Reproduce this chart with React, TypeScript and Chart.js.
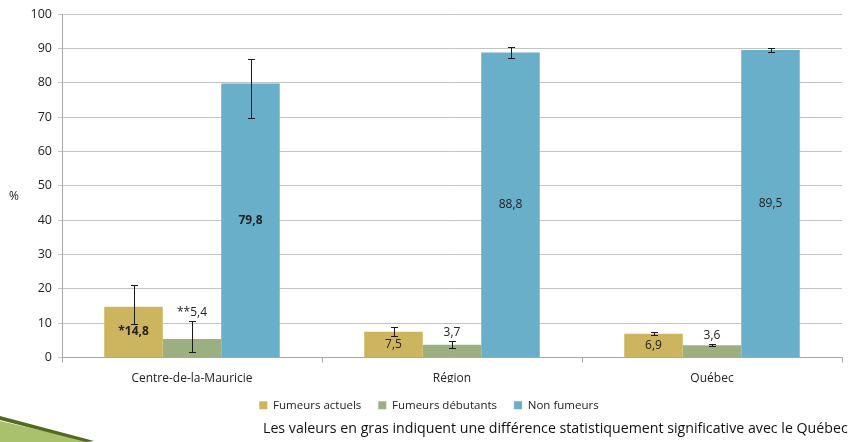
import React, { useEffect, useRef } from "react";
import { Chart, registerables } from "chart.js";

Chart.register(...registerables);

const categories = ["Centre-de-la-Mauricie", "Région", "Québec"];
const seriesNames = ["Fumeurs actuels", "Fumeurs débutants", "Non fumeurs"];
const seriesColors = ["#CDB45E", "#9CAF80", "#6AAFCA"];

const fumeursActuels = [14.8, 7.5, 6.9];
const fumeursDebutants = [5.4, 3.7, 3.6];
const nonFumeurs = [79.8, 88.8, 89.5];

const actuelsLow = [9.8, 6.4, 6.5];
const actuelsHigh = [21.2, 8.9, 7.4];
const debutantsLow = [1.7, 2.8, 3.3];
const debutantsHigh = [10.5, 4.7, 3.9];
const nonLow = [69.6, 87.1, 88.8];
const nonHigh = [86.9, 90.5, 90.1];

const actuelsPrefix = ["*", "", ""];
const debutantsPrefix = ["**", "", ""];
const nonPrefix = ["", "", ""];
const actuelsBold = [true, false, false];
const debutantsBold = [false, false, false];
const nonBold = [true, false, false];

const yMin = 0;
const yMax = 100;
const yStep = 10;
const yAxisTitle = "%";
const footnote =
  "Les valeurs en gras indiquent une différence statistiquement significative avec le Québec";

const FONT = "'Open Sans', 'Noto Sans', sans-serif";

const lows = [actuelsLow, debutantsLow, nonLow];
const highs = [actuelsHigh, debutantsHigh, nonHigh];
const prefixes = [actuelsPrefix, debutantsPrefix, nonPrefix];
const bolds = [actuelsBold, debutantsBold, nonBold];
const values = [fumeursActuels, fumeursDebutants, nonFumeurs];

const fmt = (v: number) => v.toFixed(1).replace(".", ",");

const errorAndLabels = {
  id: "errorAndLabels",
  afterDatasetsDraw(chart: any) {
    const ctx = chart.ctx;
    const ys = chart.scales.y;
    ctx.save();
    ctx.strokeStyle = "#1a1a1a";
    ctx.lineWidth = 1;
    chart.data.datasets.forEach((_ds: any, i: number) => {
      const meta = chart.getDatasetMeta(i);
      meta.data.forEach((el: any, j: number) => {
        const x = Math.round(el.x) + 0.5;
        const yh = Math.round(ys.getPixelForValue(highs[i][j])) + 0.5;
        const yl = Math.round(ys.getPixelForValue(lows[i][j])) + 0.5;
        ctx.beginPath();
        ctx.moveTo(x, yh);
        ctx.lineTo(x, yl);
        ctx.moveTo(x - 3.5, yh);
        ctx.lineTo(x + 3.5, yh);
        ctx.moveTo(x - 3.5, yl);
        ctx.lineTo(x + 3.5, yl);
        ctx.stroke();
      });
    });
    ctx.fillStyle = "#222";
    ctx.textAlign = "center";
    ctx.textBaseline = "middle";
    chart.data.datasets.forEach((_ds: any, i: number) => {
      const meta = chart.getDatasetMeta(i);
      meta.data.forEach((el: any, j: number) => {
        const text = prefixes[i][j] + fmt(values[i][j]);
        ctx.font = (bolds[i][j] ? "bold " : "") + "12px " + FONT;
        let y: number;
        if (i === 1) {
          y = ys.getPixelForValue(highs[i][j]) - 9;
        } else {
          y = (el.y + el.base) / 2;
        }
        ctx.fillText(text, el.x, y);
      });
    });
    ctx.font = "12px " + FONT;
    ctx.fillStyle = "#222";
    ctx.fillText(yAxisTitle, 14, (chart.chartArea.top + chart.chartArea.bottom) / 2 + 11);
    ctx.restore();
  },
};

export default function App() {
  const ref = useRef<HTMLCanvasElement | null>(null);
  useEffect(() => {
    if (!ref.current) return;
    Chart.defaults.font.family = FONT;
    const chart = new Chart(ref.current, {
      type: "bar",
      data: {
        labels: categories,
        datasets: values.map((v, i) => ({
          label: seriesNames[i],
          data: v,
          backgroundColor: seriesColors[i],
          borderWidth: 0,
          categoryPercentage: 0.675,
          barPercentage: 1,
        })),
      },
      options: {
        responsive: false,
        animation: false,
        layout: { padding: { top: 14, right: 16, bottom: 21, left: 16 } },
        plugins: {
          legend: {
            position: "bottom",
            labels: {
              boxWidth: 8,
              boxHeight: 8,
              padding: 17,
              color: "#222",
              font: { size: 11.5, family: FONT },
            },
          },
          tooltip: { enabled: false },
        },
        scales: {
          x: {
            grid: {
              display: true,
              drawOnChartArea: false,
              drawTicks: true,
              tickLength: 5,
              offset: true,
              color: "#a6a6a6",
            },
            border: { color: "#a6a6a6" },
            ticks: { color: "#222", font: { size: 12, family: FONT }, padding: 9 },
            afterFit: (s: any) => {
              s.height = 25;
            },
          },
          y: {
            min: yMin,
            max: yMax,
            ticks: {
              stepSize: yStep,
              color: "#222",
              font: { size: 12.5, family: FONT },
              padding: 6,
            },
            grid: { color: "#c3c3c3", tickLength: 4 },
            border: { color: "#a6a6a6" },
            afterFit: (s: any) => {
              s.width = 46;
            },
          },
        },
      },
      plugins: [errorAndLabels],
    });
    return () => chart.destroy();
  }, []);
  return (
    <div style={{ position: "absolute", left: 0, top: 0, width: 858, height: 442, background: "#fff", overflow: "hidden" }}>
      <canvas ref={ref} width={858} height={442} style={{ display: "block" }} />
      <svg width={120} height={40} style={{ position: "absolute", left: 0, top: 402 }}>
        <polygon points="0,19 92,40 0,40" fill="#A9C06C" />
        <polygon points="0,14 94,39 86,40 0,18" fill="#4F6B1E" />
      </svg>
      <div
        style={{
          position: "absolute",
          left: 263,
          top: 419,
          fontFamily: FONT,
          fontSize: 14.2,
          color: "#111",
          whiteSpace: "nowrap",
          lineHeight: "18px",
        }}
      >
        {footnote}
      </div>
    </div>
  );
}
